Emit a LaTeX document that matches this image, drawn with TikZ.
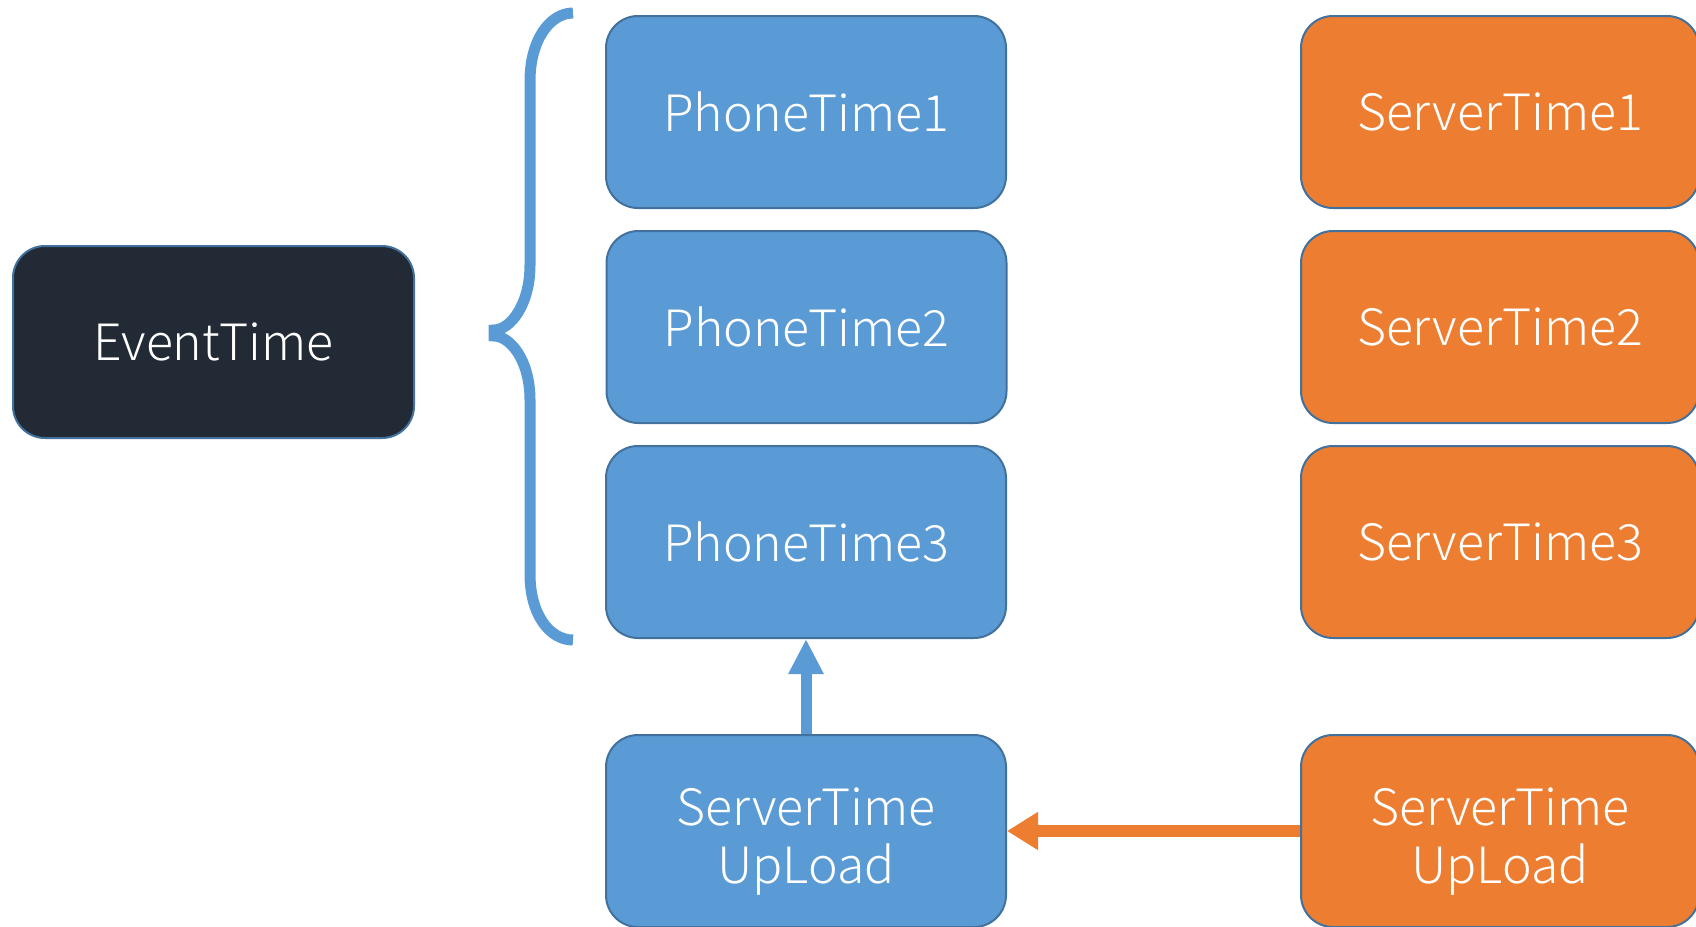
\documentclass[tikz,border=0pt]{standalone}
\usepackage{fontspec}
\setmainfont{Noto Sans CJK JP Light}
\usetikzlibrary{arrows.meta}
\definecolor{bfill}{HTML}{5B9BD5}
\definecolor{ofill}{HTML}{ED7D31}
\definecolor{dfill}{HTML}{222A35}
\definecolor{bord}{HTML}{41719C}
\tikzset{
  box/.style={rectangle, rounded corners=32pt, draw=bord, line width=2pt,
    minimum width=400pt, minimum height=192pt, text=white, inner sep=0pt,
    font=\fontsize{50}{58}\selectfont, align=center},
  bluebox/.style={box, fill=bfill},
  orangebox/.style={box, fill=ofill, minimum width=398pt},
  darkbox/.style={box, fill=dfill, minimum width=401pt},
}
\begin{document}
\begin{tikzpicture}[x=1pt,y=-1pt]
\useasboundingbox (0,0) rectangle (1696,926);
\node[darkbox] (ev) at (213.5,342) {EventTime};
\node[bluebox] (p1) at (806,112) {PhoneTime1};
\node[bluebox] (p2) at (806.5,327) {PhoneTime2};
\node[bluebox] (p3) at (806,542) {PhoneTime3};
\node[bluebox] (pu) at (806,831) {\rule{0pt}{58pt}ServerTime\\UpLoad};
\node[orangebox] (s1) at (1500,112) {ServerTime1};
\node[orangebox] (s2) at (1500,327) {ServerTime2};
\node[orangebox] (s3) at (1500,542) {ServerTime3};
\node[orangebox] (su) at (1500,831) {\rule{0pt}{58pt}ServerTime\\UpLoad};
\draw[bfill, line width=11pt, -{Triangle[length=35pt,width=33pt]}] (pu.north) -- (p3.south);
\draw[ofill, line width=12pt, -{Triangle[length=31pt,width=36pt]}] (su.west) -- (pu.east);
\draw[bfill, line width=11pt] (573,13) .. controls (550,13) and (530,40) .. (530,81) -- (530,265)
  .. controls (530,305) and (510,330) .. (494,330) -- (494,336)
  .. controls (510,336) and (530,360) .. (530,400) -- (530,574)
  .. controls (530,615) and (550,640) .. (573,640);
\end{tikzpicture}
\end{document}
